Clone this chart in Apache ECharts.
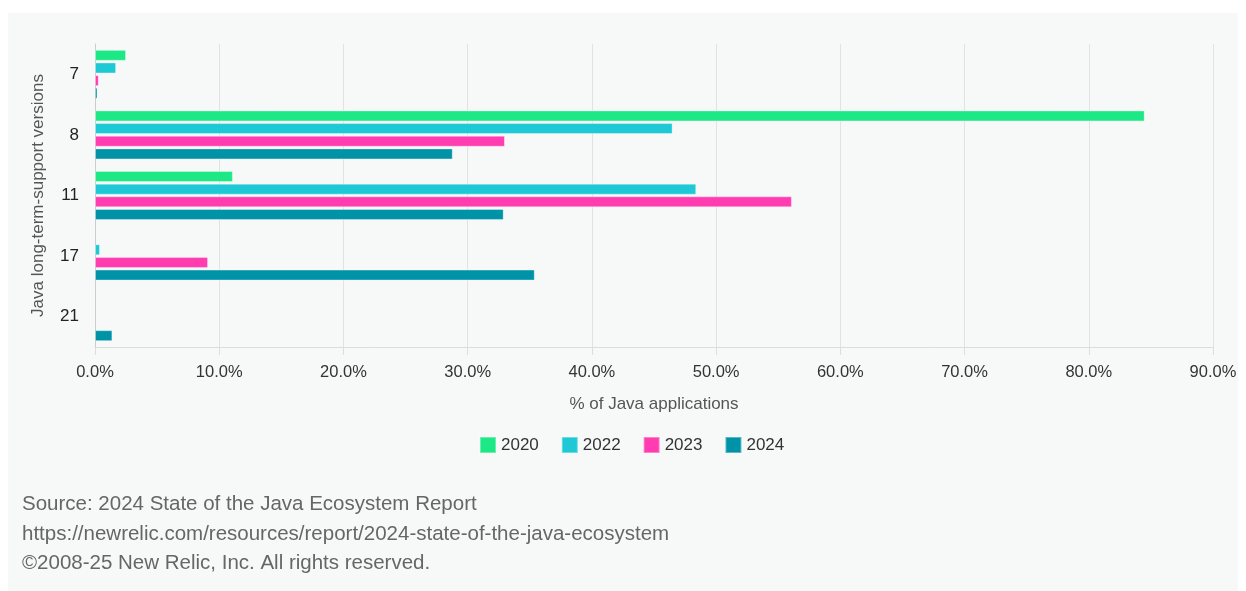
<!DOCTYPE html>
<html>
<head>
<meta charset="utf-8">
<script src="https://cdn.jsdelivr.net/npm/echarts@6/dist/echarts.min.js"></script>
<style>
  html, body { margin: 0; padding: 0; background: #ffffff; }
  #panel { position: absolute; left: 8px; top: 13px; width: 1230px; height: 578px; background: #f7f9f9; }
  #chart { position: absolute; left: 0; top: 0; width: 1246px; height: 591px; }
</style>
</head>
<body>
<div id="panel"></div>
<div id="chart"></div>
<script>
// LTS versions, top to bottom
const versions = ['7', '8', '11', '17', '21'];
const years = ['2020', '2022', '2023', '2024'];
const colors = ['#1de886', '#1ec9d5', '#ff3cb0', '#0093a8'];

// % of Java applications per version (null = not present)
const pct2020 = [2.5, 84.5, 11.1, null, null];
const pct2022 = [1.7, 46.5, 48.4, 0.4, null];
const pct2023 = [0.3, 33.0, 56.1, 9.1, null];
const pct2024 = [0.2, 28.8, 32.9, 35.4, 1.4];

const xTicks = [0, 10, 20, 30, 40, 50, 60, 70, 80, 90];

const footer = [
  'Source: 2024 State of the Java Ecosystem Report',
  'https://newrelic.com/resources/report/2024-state-of-the-java-ecosystem',
  '\u00a92008-25 New Relic, Inc. All rights reserved.'
];

const allValues = [pct2020, pct2022, pct2023, pct2024];
const font = 'Arial, "Liberation Sans", sans-serif';

const chart = echarts.init(document.getElementById('chart'));

chart.setOption({
  backgroundColor: 'transparent',
  textStyle: { fontFamily: font },
  grid: { left: 95, right: 33, top: 44, bottom: 244 },
  legend: {
    top: 431,
    left: 474,
    itemWidth: 16,
    itemHeight: 16,
    itemGap: 22,
    icon: 'rect',
    textStyle: { fontSize: 17, color: '#333', fontFamily: font },
    data: years
  },
  xAxis: {
    type: 'value',
    min: xTicks[0],
    max: xTicks[xTicks.length - 1],
    interval: 10,
    name: '% of Java applications',
    nameLocation: 'middle',
    nameGap: 49,
    nameTextStyle: { fontSize: 17, color: '#555' },
    axisLine: { show: true, lineStyle: { color: '#dddddd' } },
    axisTick: { show: true, length: 8, lineStyle: { color: '#dddddd' } },
    axisLabel: {
      fontSize: 16.5,
      color: '#333',
      margin: 17,
      formatter: v => v.toFixed(1) + '%'
    },
    splitLine: { show: true, lineStyle: { color: '#e2e2e2' } }
  },
  yAxis: {
    type: 'category',
    data: versions,
    inverse: true,
    name: 'Java long-term-support versions',
    nameLocation: 'middle',
    nameGap: 48,
    nameTextStyle: { fontSize: 17, color: '#555' },
    axisLine: { show: true, lineStyle: { color: '#cccccc' } },
    axisTick: { show: false },
    axisLabel: { fontSize: 17, color: '#222', margin: 16 }
  },
  series: years.map((y, i) => ({
    name: y,
    type: 'bar',
    data: allValues[i],
    barWidth: 11,
    barGap: '15%',
    itemStyle: {
      color: colors[i],
      borderColor: 'rgba(255,255,255,0.35)',
      borderWidth: 1
    }
  })),
  graphic: footer.map((t, i) => ({
    type: 'text',
    left: 22,
    top: 494 + i * 29.5,
    style: { text: t, fontSize: 20.5, fill: '#666', fontFamily: font }
  }))
});
</script>
</body>
</html>
